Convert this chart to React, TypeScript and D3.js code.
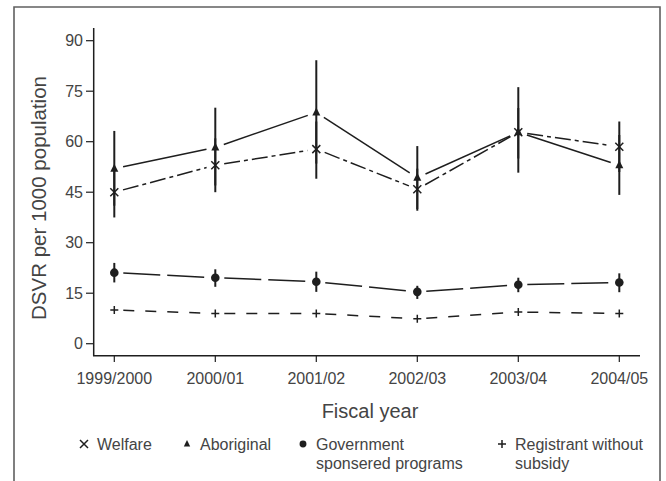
import * as d3 from 'd3'

const years = ['1999/2000', '2000/01', '2001/02', '2002/03', '2003/04', '2004/05']
const yTicks = [0, 15, 30, 45, 60, 75, 90]

// values, [value, lower, upper]
const welfare = [
  [45, 37.5, 52.5],
  [53, 45, 61],
  [57.8, 49, 66],
  [45.9, 39.5, 52],
  [62.8, 55, 70],
  [58.5, 51, 66],
]
const aboriginal = [
  [52, 41, 63.2],
  [58.3, 47, 70.1],
  [68.7, 53.5, 84.2],
  [49.3, 40, 58.7],
  [62.8, 50.8, 76.2],
  [53, 44.2, 62],
]
const government = [
  [21.1, 18.2, 24],
  [19.6, 16.9, 22.1],
  [18.4, 15.4, 21.4],
  [15.4, 13.3, 17.2],
  [17.5, 15.3, 19.6],
  [18.2, 15.3, 20.9],
]
const registrant = [10, 9, 9, 7.4, 9.4, 9]

type Marker = 'cross' | 'triangle' | 'circle' | 'plus'

const series: { name: string[]; marker: Marker; dash: string; data: number[][] }[] = [
  { name: ['Welfare'], marker: 'cross', dash: '16,4,4,4', data: welfare },
  { name: ['Aboriginal'], marker: 'triangle', dash: '', data: aboriginal },
  { name: ['Government', 'sponsered programs'], marker: 'circle', dash: '37,7', data: government },
  { name: ['Registrant without', 'subsidy'], marker: 'plus', dash: '11,11', data: registrant.map((v) => [v, v, v]) },
]

const legendX = [84, 187, 303, 502]

const INK = '#1e1e1e'
const TEXT = '#444'
const FONT = '"Liberation Sans", Arial, Helvetica, sans-serif'

const MarkerShape = ({ type, x, y, k = 1 }: { type: Marker; x: number; y: number; k?: number }) => {
  if (type === 'cross')
    return (
      <path
        d={`M${x - 4},${y - 4}L${x + 4},${y + 4}M${x - 4},${y + 4}L${x + 4},${y - 4}`}
        stroke={INK}
        strokeWidth={1.5}
      />
    )
  if (type === 'plus')
    return (
      <path
        d={`M${x - 4},${y}L${x + 4},${y}M${x},${y - 4}L${x},${y + 4}`}
        stroke={INK}
        strokeWidth={1.5}
      />
    )
  if (type === 'circle') return <circle cx={x} cy={y} r={4.3 * k} fill={INK} />
  return (
    <path
      d={`M${x},${y - 5 * k}L${x + 4 * k},${y + 3 * k}L${x - 4 * k},${y + 3 * k}Z`}
      fill={INK}
    />
  )
}

const App = () => {
  const x = d3.scalePoint<string>().domain(years).range([114.3, 619.3])
  const y = d3.scaleLinear().domain([-3.56, 93.8]).range([355.7, 27.9])

  const gap = 9
  const seg = d3.line<[number, number]>()

  const segments = (data: number[][]) =>
    data.slice(1).map((d, i) => {
      const x0 = x(years[i]) as number
      const y0 = y(data[i][0])
      const x1 = x(years[i + 1]) as number
      const y1 = y(d[0])
      const len = Math.hypot(x1 - x0, y1 - y0)
      const ux = (x1 - x0) / len
      const uy = (y1 - y0) / len
      return seg([
        [x0 + ux * gap, y0 + uy * gap],
        [x1 - ux * gap, y1 - uy * gap],
      ])
    })

  return (
    <svg
      width={666}
      height={481}
      style={{ position: 'absolute', left: 0, top: 0, background: '#fff' }}
      fontFamily={FONT}
    >
      <path d="M14,490V7H660V490" fill="none" stroke="#606060" strokeWidth={1.6} />

      {/* axes */}
      <path d={`M93.7,${y.range()[1]}V355.7H640`} fill="none" stroke={INK} strokeWidth={1.5} />
      {yTicks.map((t) => (
        <g key={t}>
          <line x1={86} x2={93.7} y1={y(t)} y2={y(t)} stroke={INK} strokeWidth={1.2} />
          <text x={83} y={y(t)} dy="0.36em" textAnchor="end" fontSize={16} fill={TEXT}>
            {t}
          </text>
        </g>
      ))}
      {years.map((yr) => (
        <g key={yr}>
          <line x1={x(yr)} x2={x(yr)} y1={355.7} y2={362} stroke={INK} strokeWidth={1.2} />
          <text x={x(yr)} y={384} textAnchor="middle" fontSize={16} fill={TEXT}>
            {yr}
          </text>
        </g>
      ))}
      <text
        transform="translate(46,198) rotate(-90)"
        textAnchor="middle"
        fontSize={20.5}
        fill={TEXT}
      >
        DSVR per 1000 population
      </text>
      <text x={370} y={418} textAnchor="middle" fontSize={20} fill={TEXT}>
        Fiscal year
      </text>

      {/* error bars */}
      {series.map((s) =>
        s.data.map((d, i) =>
          d[1] !== d[2] ? (
            <line
              key={s.marker + i}
              x1={x(years[i])}
              x2={x(years[i])}
              y1={y(d[1])}
              y2={y(d[2])}
              stroke={INK}
              strokeWidth={2}
            />
          ) : null
        )
      )}

      {/* connecting lines */}
      {series.map((s) =>
        segments(s.data).map((p, i) => (
          <path
            key={s.marker + 'l' + i}
            d={p ?? ''}
            fill="none"
            stroke={INK}
            strokeWidth={1.5}
            strokeDasharray={s.dash || undefined}
          />
        ))
      )}

      {/* markers */}
      {series.map((s) =>
        s.data.map((d, i) => (
          <MarkerShape key={s.marker + 'm' + i} type={s.marker} x={x(years[i]) as number} y={y(d[0])} />
        ))
      )}

      {/* legend */}
      {series.map((s, i) => (
        <g key={s.marker + 'legend'}>
          <MarkerShape type={s.marker} x={legendX[i]} y={444} k={0.8} />
          <text x={legendX[i] + 13} y={449.5} fontSize={16} fill={TEXT}>
            {s.name.map((n, j) => (
              <tspan key={n} x={legendX[i] + 13} dy={j === 0 ? 0 : 19.5}>
                {n}
              </tspan>
            ))}
          </text>
        </g>
      ))}
    </svg>
  )
}

export default App
